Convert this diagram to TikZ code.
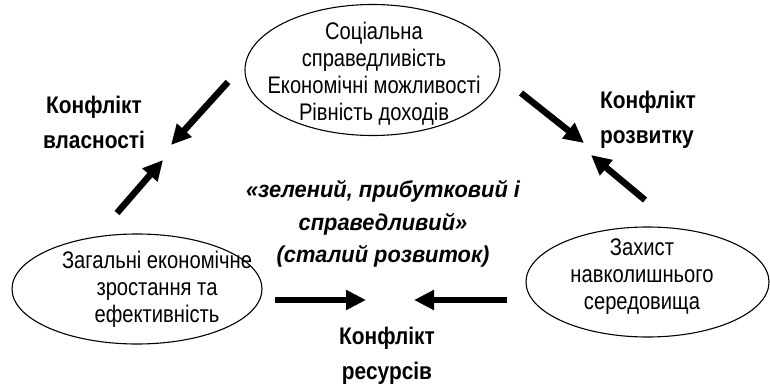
\documentclass[tikz,border=0pt]{standalone}
\usepackage{fontspec}
\setmainfont[FakeStretch=0.84]{Liberation Sans}
\newfontfamily\lblfont[FakeStretch=0.87]{Liberation Sans}
\newfontfamily\midfont[FakeStretch=0.95]{Liberation Sans}
\usetikzlibrary{arrows.meta,shapes.geometric}
\begin{document}
\begin{tikzpicture}[x=1pt,y=-1pt,
  oval/.style={draw,line width=1.1pt,ellipse,inner sep=0pt},
  txt/.style={align=center,inner sep=0pt,font=\fontsize{24}{27}\selectfont},
  lbl/.style={align=center,inner sep=0pt,font=\lblfont\fontsize{24}{35}\selectfont\bfseries},
  mid/.style={align=center,inner sep=0pt,font=\midfont\fontsize{23}{32.5}\selectfont\bfseries\itshape},
  bigarrow/.style={line width=6.5pt,-{Triangle[length=20pt,width=19pt]}}]
\useasboundingbox (0,0) rectangle (770,385);
\node[oval,minimum width=255pt,minimum height=131pt] (top) at (372.5,70) {};
\node[oval,minimum width=250pt,minimum height=110pt] (left) at (137,289) {};
\node[oval,minimum width=243pt,minimum height=110pt] (right) at (647.5,282) {};
\node[txt] (toptxt) at (374,74) {Соціальна\\справедливість\\Економічні можливості\\Рівність доходів};
\node[txt] (lefttxt) at (157,289) {Загальні економічне\\зростання та\\ефективність};
\node[txt] (righttxt) at (642,277) {Захист\\навколишнього\\середовища};
\node[lbl] (lconf) at (94,122) {Конфлікт\\власності};
\node[lbl,align=left,anchor=west] (rconf) at (600,120) {Конфлікт\\розвитку};
\node[lbl] (bconf) at (387,356) {Конфлікт\\ресурсів};
\node[mid] (centre) at (383,224) {«зелений, прибутковий і\\справедливий»\\(сталий розвиток)};
\coordinate (a1s) at (228,82);
\coordinate (a1e) at (171,145);
\coordinate (a2s) at (117,213);
\coordinate (a2e) at (163,160);
\coordinate (a3s) at (521,93);
\coordinate (a3e) at (584,143);
\coordinate (a4s) at (645,200);
\coordinate (a4e) at (591,155);
\coordinate (a5s) at (275,300);
\coordinate (a5e) at (366,300);
\coordinate (a6s) at (507,300);
\coordinate (a6e) at (414,300);
\draw[bigarrow] (a1s) -- (a1e);
\draw[bigarrow] (a2s) -- (a2e);
\draw[bigarrow] (a3s) -- (a3e);
\draw[bigarrow] (a4s) -- (a4e);
\draw[bigarrow] (a5s) -- (a5e);
\draw[bigarrow] (a6s) -- (a6e);
\end{tikzpicture}
\end{document}
